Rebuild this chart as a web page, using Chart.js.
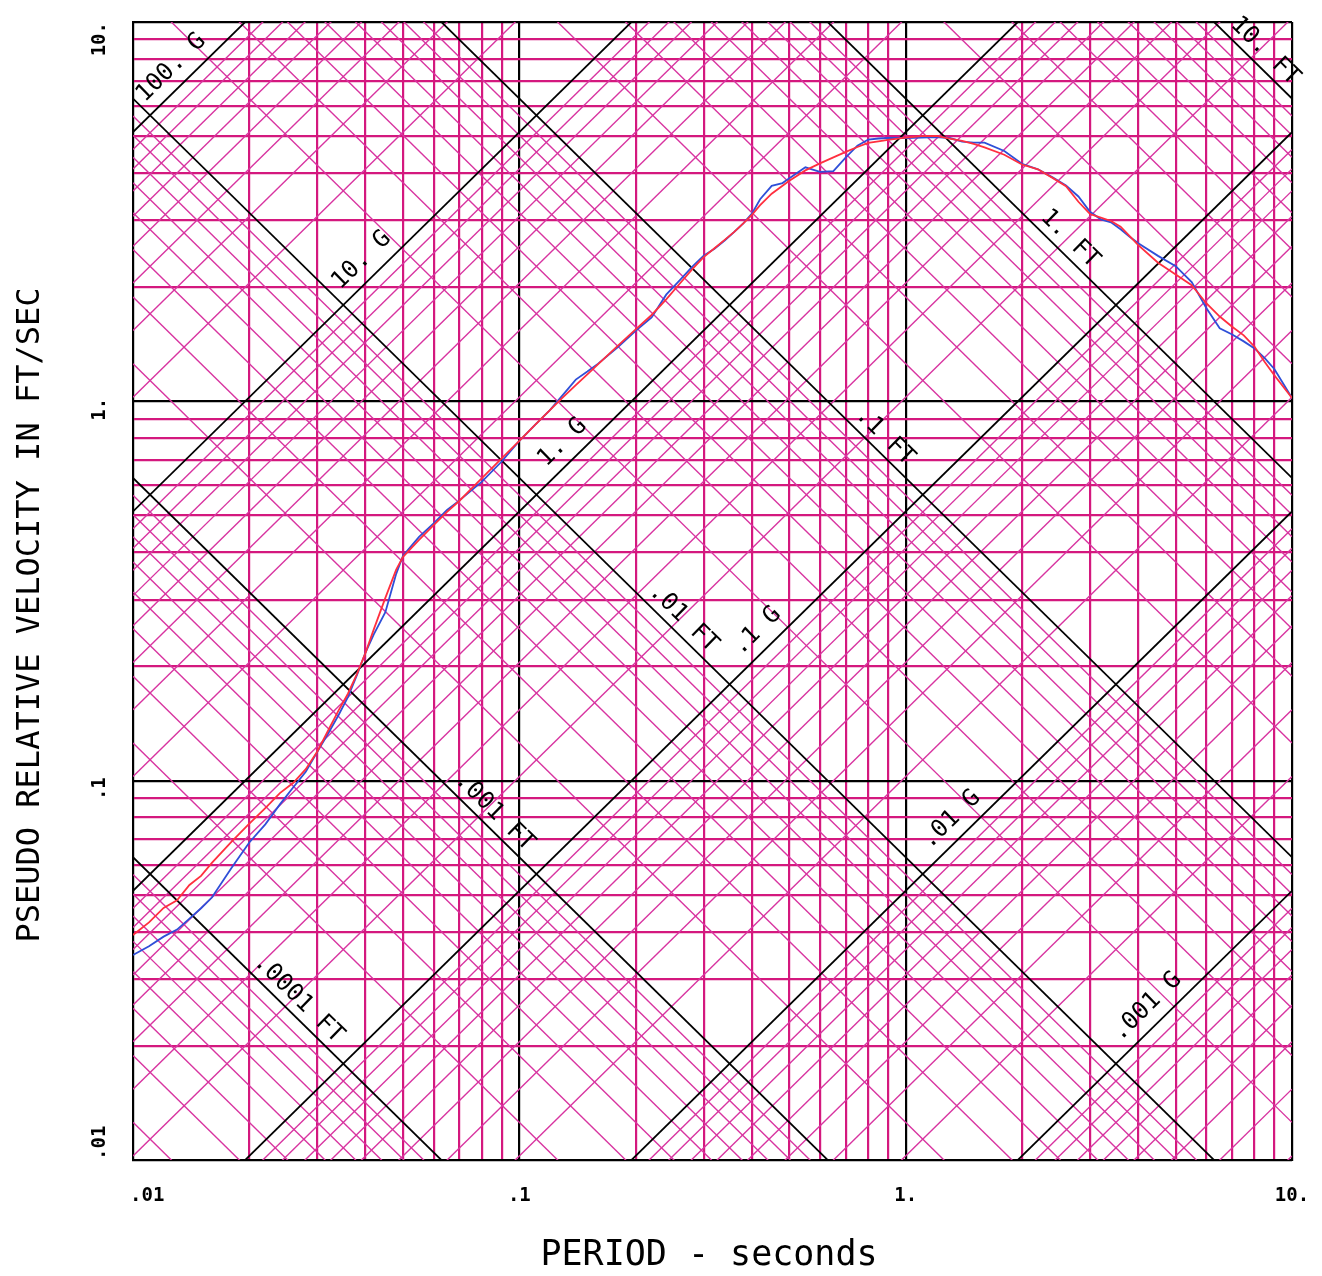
<!DOCTYPE html>
<html>
<head>
<meta charset="utf-8">
<title>Pseudo relative velocity spectrum</title>
<script src="https://cdn.jsdelivr.net/npm/chart.js@4.4.0/dist/chart.umd.min.js"></script>
<style>
  html, body { margin: 0; padding: 0; background: #fff; }
  #wrap { width: 1322px; height: 1276px; }
</style>
</head>
<body>
<div id="wrap"><canvas id="spectrum"></canvas></div>
<script>
// period in seconds
var periods = [0.010, 0.011, 0.012, 0.013, 0.014, 0.015, 0.016, 0.018, 0.020, 0.022,
    0.024, 0.026, 0.028, 0.030, 0.032, 0.034, 0.036, 0.038, 0.040, 0.042,
    0.045, 0.048, 0.050, 0.055, 0.060, 0.065, 0.070, 0.080, 0.090, 0.10,
    0.11, 0.12, 0.13, 0.14, 0.15, 0.16, 0.18, 0.20, 0.22, 0.24,
    0.26, 0.28, 0.30, 0.32, 0.34, 0.36, 0.38, 0.40, 0.42, 0.45,
    0.48, 0.50, 0.55, 0.60, 0.65, 0.70, 0.75, 0.80, 0.85, 0.90,
    1.0, 1.1, 1.2, 1.3, 1.4, 1.5, 1.6, 1.8, 2.0, 2.2,
    2.4, 2.6, 2.8, 3.0, 3.2, 3.4, 3.6, 3.8, 4.0, 4.5,
    5.0, 5.5, 6.0, 6.5, 7.0, 7.5, 8.0, 8.5, 9.0, 10];

// pseudo relative velocity, ft/sec
var velocityBlue = [0.0347, 0.0366, 0.0388, 0.0405, 0.0433, 0.0461, 0.0492, 0.0589, 0.0687, 0.0767,
    0.0866, 0.0961, 0.1056, 0.1191, 0.1332, 0.1485, 0.166, 0.190, 0.218, 0.243,
    0.278, 0.351, 0.392, 0.439, 0.477, 0.517, 0.548, 0.614, 0.694, 0.787,
    0.868, 0.948, 1.043, 1.141, 1.198, 1.257, 1.391, 1.535, 1.664, 1.911,
    2.083, 2.263, 2.42, 2.525, 2.655, 2.796, 2.946, 3.125, 3.41, 3.698,
    3.762, 3.876, 4.14, 4.026, 4.043, 4.398, 4.72, 4.90, 4.93, 4.945,
    4.945, 4.96, 4.97, 4.945, 4.84, 4.81, 4.81, 4.57, 4.23, 4.09,
    3.894, 3.705, 3.468, 3.16, 3.019, 2.963, 2.843, 2.716, 2.61, 2.418,
    2.271, 2.062, 1.762, 1.558, 1.50, 1.439, 1.379, 1.30, 1.217, 1.02];

var velocityRed = [0.0392, 0.0423, 0.0462, 0.0484, 0.0531, 0.0561, 0.0607, 0.0691, 0.077, 0.0847,
    0.0927, 0.0987, 0.1072, 0.1194, 0.1356, 0.1527, 0.1695, 0.1912, 0.2175, 0.2505,
    0.3034, 0.360, 0.389, 0.431, 0.472, 0.511, 0.547, 0.627, 0.707, 0.787,
    0.868, 0.948, 1.027, 1.103, 1.178, 1.253, 1.403, 1.547, 1.689, 1.857,
    2.042, 2.228, 2.40, 2.533, 2.664, 2.796, 2.946, 3.102, 3.289, 3.526,
    3.702, 3.814, 4.063, 4.24, 4.398, 4.545, 4.683, 4.80, 4.845, 4.89,
    4.957, 5.00, 5.01, 4.93, 4.857, 4.77, 4.674, 4.468, 4.21, 4.09,
    3.882, 3.689, 3.358, 3.118, 3.05, 2.988, 2.886, 2.724, 2.581, 2.32,
    2.159, 2.024, 1.814, 1.673, 1.573, 1.493, 1.393, 1.27, 1.171, 1.02];

// decade ticks, same on both axes
var decades = [0.01, 0.1, 1, 10];
var tickLabels = ['.01', '.1', '1.', '10.'];

// labelled acceleration lines (G) and where along the period axis the label sits
var accelValues = [100, 10, 1, 0.1, 0.01, 0.001];
var accelLabels = ['100. G', '10. G', '1. G', '.1 G', '.01 G', '.001 G'];
var accelLabelAt = [0.0136, 0.0423, 0.14, 0.446, 1.42, 4.56];

// labelled displacement lines (FT)
var dispValues = [10, 1, 0.1, 0.01, 0.001, 0.0001];
var dispLabels = ['10. FT', '1. FT', '.1 FT', '.01 FT', '.001 FT', '.0001 FT'];
var dispLabelAt = [8.0, 2.5, 0.83, 0.25, 0.081, 0.0252];

var GRAV = 32.2;
var TWO_PI = 2 * Math.PI;
var MAGENTA = 'rgb(212, 24, 126)';
var MAGENTA_DIAG = 'rgb(216, 52, 160)';

function svAccel(g, t) { return g * GRAV * t / TWO_PI; }
function svDisp(ft, t) { return TWO_PI * ft / t; }

function isDecade(v) {
    var l = Math.log10(v);
    return Math.abs(l - Math.round(l)) < 1e-6;
}

// 1..9 in every decade for the square grid
var gridValues = [];
decades.forEach(function (d, i) {
    if (i === decades.length - 1) { gridValues.push(d); return; }
    for (var k = 1; k <= 9; k++) gridValues.push(+(k * d).toPrecision(3));
});

function diagLine(fn, level) {
    var black = isDecade(level);
    return {
        data: [{ x: 0.01, y: fn(level, 0.01) }, { x: 10, y: fn(level, 10) }],
        borderColor: black ? '#000' : MAGENTA_DIAG,
        borderWidth: black ? 1.8 : 1.4,
        pointRadius: 0,
        clip: 0,
        order: black ? 2 : 3
    };
}

var datasets = [];
datasets.push({
    data: periods.map(function (t, i) { return { x: t, y: velocityRed[i] }; }),
    borderColor: '#ff2f3f', borderWidth: 1.8, pointRadius: 0, clip: 0, order: 0
});
datasets.push({
    data: periods.map(function (t, i) { return { x: t, y: velocityBlue[i] }; }),
    borderColor: '#2f4fd8', borderWidth: 1.8, pointRadius: 0, clip: 0, order: 1
});

for (var p = -4; p <= 2; p++) {
    for (var k = 1; k <= 9; k++) {
        var g = k * Math.pow(10, p);
        if (g * 51.25 > 0.01 && g * 0.05125 < 10) datasets.push(diagLine(svAccel, g));
    }
}
for (var q = -5; q <= 1; q++) {
    for (var m = 1; m <= 9; m++) {
        var ft = m * Math.pow(10, q);
        if (ft * 628.3 > 0.01 && ft * 0.6283 < 10) datasets.push(diagLine(svDisp, ft));
    }
}

function gridStyle(ctx) { return isDecade(ctx.tick.value) ? '#000' : MAGENTA; }

function logAxis() {
    return {
        type: 'logarithmic',
        min: 0.01,
        max: 10,
        afterBuildTicks: function (scale) {
            scale.ticks = gridValues.map(function (v) { return { value: v }; });
        },
        ticks: { display: false },
        grid: { color: gridStyle, lineWidth: 2.2, drawTicks: false },
        border: { display: true, color: '#000', width: 2 }
    };
}

var labelPlugin = {
    id: 'labels',
    afterDatasetsDraw: function (chart) {
        var c = chart.ctx, xs = chart.scales.x, ys = chart.scales.y;

        function along(fn, level, t, text, off) {
            var x1 = xs.getPixelForValue(t * 0.9), y1 = ys.getPixelForValue(fn(level, t * 0.9));
            var x2 = xs.getPixelForValue(t * 1.1), y2 = ys.getPixelForValue(fn(level, t * 1.1));
            var a = Math.atan2(y2 - y1, x2 - x1);
            var px = xs.getPixelForValue(t), py = ys.getPixelForValue(fn(level, t));
            c.save();
            c.translate(px + Math.sin(a) * off, py - Math.cos(a) * off);
            c.rotate(a);
            c.fillStyle = '#000';
            c.font = '24px "DejaVu Sans Mono"';
            c.textAlign = 'center';
            c.textBaseline = 'middle';
            c.fillText(text, 0, 0);
            c.restore();
        }

        accelValues.forEach(function (v, i) { along(svAccel, v, accelLabelAt[i], accelLabels[i], 19); });
        dispValues.forEach(function (v, i) { along(svDisp, v, dispLabelAt[i], dispLabels[i], 15); });
    },
    afterDraw: function (chart) {
        var c = chart.ctx, xs = chart.scales.x, ys = chart.scales.y;
        c.save();
        c.fillStyle = '#000';
        c.font = 'bold 19px "DejaVu Sans Mono"';
        c.textBaseline = 'middle';

        // period ticks
        decades.forEach(function (d, i) {
            var x = xs.getPixelForValue(d);
            c.textAlign = i === 0 ? 'left' : 'center';
            c.fillText(tickLabels[i], i === 0 ? x - 3 : x, 1196);
        });

        // velocity ticks, written upward
        decades.forEach(function (d, i) {
            var y = ys.getPixelForValue(d);
            c.save();
            c.translate(100, y);
            c.rotate(-Math.PI / 2);
            if (i === 0) { c.textAlign = 'left'; c.fillText(tickLabels[i], 0, 0); }
            else if (i === decades.length - 1) { c.textAlign = 'right'; c.fillText(tickLabels[i], 0, 0); }
            else { c.textAlign = 'center'; c.fillText(tickLabels[i], -8, 0); }
            c.restore();
        });

        c.font = '35px "DejaVu Sans Mono"';
        c.textAlign = 'center';
        c.fillText('PERIOD - seconds', 709, 1256);

        c.translate(31, 615);
        c.rotate(-Math.PI / 2);
        c.font = '32px "DejaVu Sans Mono"';
        c.fillText('PSEUDO RELATIVE VELOCITY IN FT/SEC', 0, 0);
        c.restore();
    }
};

var ctx = document.getElementById('spectrum').getContext('2d');
var spectrumChart = new Chart(ctx, {
    type: 'line',
    data: { datasets: datasets },
    options: {
        responsive: true,
        maintainAspectRatio: false,
        animation: false,
        events: [],
        elements: { line: { tension: 0 } },
        layout: { padding: { left: 133, top: 22, right: 30, bottom: 116 } },
        scales: { x: logAxis(), y: logAxis() },
        plugins: { legend: { display: false }, tooltip: { enabled: false } }
    },
    plugins: [labelPlugin]
});
</script>
</body>
</html>
